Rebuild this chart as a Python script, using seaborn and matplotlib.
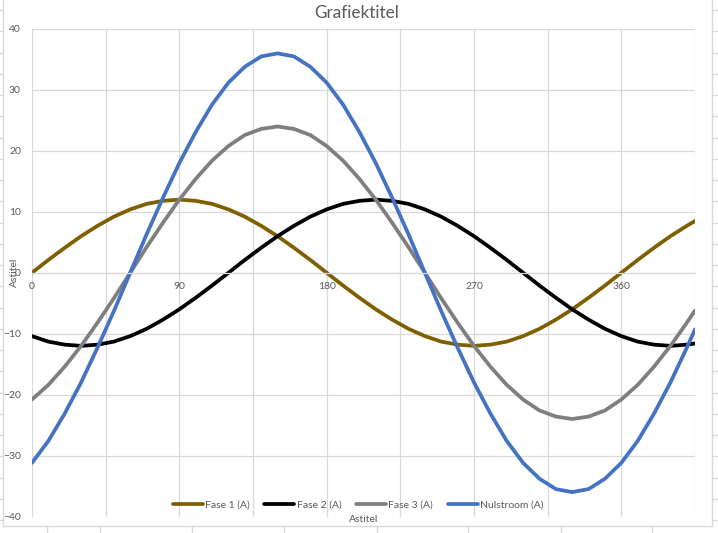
import pandas as pd
import seaborn as sns
import matplotlib.pyplot as plt
from matplotlib.lines import Line2D
from matplotlib.ticker import FixedLocator

# hoek in graden
hoek = list(range(0, 401, 10)) + [405]

fase1 = [0.0, 2.1, 4.1, 6.0, 7.7, 9.2, 10.4, 11.3, 11.8, 12.0,
         11.8, 11.3, 10.4, 9.2, 7.7, 6.0, 4.1, 2.1, 0.0,
         -2.1, -4.1, -6.0, -7.7, -9.2, -10.4, -11.3, -11.8, -12.0,
         -11.8, -11.3, -10.4, -9.2, -7.7, -6.0, -4.1, -2.1, 0.0,
         2.1, 4.1, 6.0, 7.7, 8.5]
fase2 = [-10.4, -11.3, -11.8, -12.0, -11.8, -11.3, -10.4, -9.2, -7.7, -6.0,
         -4.1, -2.1, 0.0, 2.1, 4.1, 6.0, 7.7, 9.2, 10.4,
         11.3, 11.8, 12.0, 11.8, 11.3, 10.4, 9.2, 7.7, 6.0,
         4.1, 2.1, 0.0, -2.1, -4.1, -6.0, -7.7, -9.2, -10.4,
         -11.3, -11.8, -12.0, -11.8, -11.6]
fase3 = [-20.8, -18.4, -15.4, -12.0, -8.2, -4.2, 0.0, 4.2, 8.2, 12.0,
         15.4, 18.4, 20.8, 22.6, 23.6, 24.0, 23.6, 22.6, 20.8,
         18.4, 15.4, 12.0, 8.2, 4.2, 0.0, -4.2, -8.2, -12.0,
         -15.4, -18.4, -20.8, -22.6, -23.6, -24.0, -23.6, -22.6, -20.8,
         -18.4, -15.4, -12.0, -8.2, -6.2]
nulstroom = [-31.2, -27.6, -23.1, -18.0, -12.3, -6.3, 0.0, 6.3, 12.3, 18.0,
             23.1, 27.6, 31.2, 33.8, 35.5, 36.0, 35.5, 33.8, 31.2,
             27.6, 23.1, 18.0, 12.3, 6.3, 0.0, -6.3, -12.3, -18.0,
             -23.1, -27.6, -31.2, -33.8, -35.5, -36.0, -35.5, -33.8, -31.2,
             -27.6, -23.1, -18.0, -12.3, -9.3]

reeksen = ['Fase 1 (A)', 'Fase 2 (A)', 'Fase 3 (A)', 'Nulstroom (A)']
kleuren = ['#7f6000', '#000000', '#7f7f7f', '#4472c4']

df = pd.concat([
    pd.DataFrame({'hoek': hoek, 'stroom': vals, 'reeks': naam})
    for naam, vals in zip(reeksen, [fase1, fase2, fase3, nulstroom])
])

sns.set_theme(style='white')
plt.rcParams['font.family'] = ['Lato', 'DejaVu Sans']
tekst = '#595959'
raster = '#d9d9d9'

fig = plt.figure(figsize=(7.18, 5.33), dpi=100)
ax = fig.add_axes([32 / 718, 1 - 516.5 / 533, 663 / 718, 487.5 / 533])

sns.lineplot(data=df, x='hoek', y='stroom', hue='reeks', hue_order=reeksen,
             palette=dict(zip(reeksen, kleuren)), estimator=None, sort=False,
             lw=2.7, ax=ax, legend=False)

ax.set_xlim(0, 405)
ax.set_ylim(-40, 40)
ax.xaxis.set_major_locator(FixedLocator([0, 90, 180, 270, 360]))
ax.xaxis.set_minor_locator(FixedLocator([45, 135, 225, 315, 405]))
ax.set_yticks(range(-40, 41, 10))
ax.grid(which='both', color=raster, lw=0.9)
ax.set_axisbelow(True)
for s in ['top', 'right', 'left']:
    ax.spines[s].set_visible(False)
ax.spines['bottom'].set_position(('data', 0))
ax.spines['bottom'].set_color(raster)
ax.spines['bottom'].set_linewidth(0.9)
ax.tick_params(which='both', length=0, labelsize=7.5, labelcolor=tekst)
ax.tick_params(axis='x', pad=6.5)
ax.tick_params(axis='y', pad=8)
ax.set_xlabel('')
ax.set_ylabel('')

fig.text(357 / 718, 1 - 13 / 533, 'Grafiektitel', ha='center', va='center',
         fontsize=12.3, color=tekst)
fig.text(364 / 718, 1 - 519 / 533, 'Astitel', ha='center', va='center',
         fontsize=7.5, color=tekst)
fig.text(14 / 718, 1 - 272 / 533, 'Astitel', ha='center', va='center',
         rotation=90, fontsize=7.5, color=tekst)

handles = [Line2D([], [], color=k, lw=2.7) for k in kleuren]
fig.legend(handles, reeksen, loc='center', ncol=4, frameon=False,
           bbox_to_anchor=(358 / 718, 1 - 505 / 533), fontsize=7.5,
           labelcolor=tekst, handlelength=2.9, handletextpad=0.2,
           columnspacing=1.4)

# rand van het grafiekgebied en werkbladraster eromheen
for x0, y0, x1, y1 in [(3, 0, 3, 526), (3, 526, 712, 526), (712, 0, 712, 526)]:
    fig.add_artist(Line2D([x0 / 718, x1 / 718], [1 - y0 / 533, 1 - y1 / 533],
                          color=raster, lw=1))
for k in range(25):
    y = 10 + 21.25 * k
    if y > 526:
        break
    for xa, xb in [(0, 3), (712, 718)]:
        fig.add_artist(Line2D([xa / 718, xb / 718], [1 - y / 533, 1 - y / 533],
                              color=raster, lw=1))
for x in [47, 100, 192, 284, 377, 468, 561, 652]:
    fig.add_artist(Line2D([x / 718, x / 718], [1 - 526 / 533, 0],
                          color=raster, lw=1))

fig.savefig('out.png', dpi=100)
